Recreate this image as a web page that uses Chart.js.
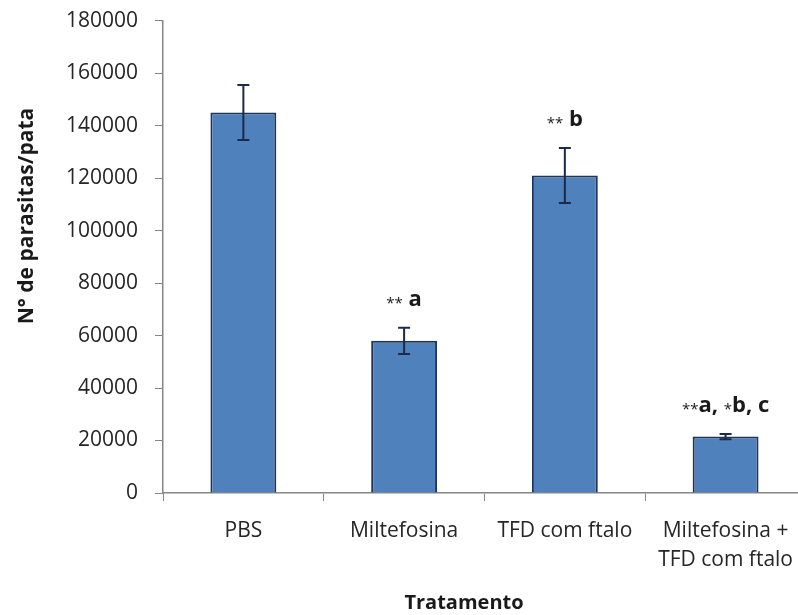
<!DOCTYPE html>
<html>
<head>
<meta charset="utf-8">
<script src="https://cdn.jsdelivr.net/npm/chart.js@4"></script>
<style>
    html, body { margin: 0; padding: 0; background: #fff; overflow: hidden; }
    #wrap { width: 808px; height: 624px; position: relative; top: -9px; }
</style>
</head>
<body>
<div id="wrap"><canvas id="parasiteChart"></canvas></div>
<script>
const categories = ["PBS", "Miltefosina", "TFD com ftalo", ["Miltefosina +", "TFD com ftalo"]];
const meanValues = [145000, 58000, 121000, 21500];
const errorValues = [10500, 5000, 10500, 1000];
const significance = ["", "** a", "** b", "**a, *b, c"];
const yTicks = [0, 20000, 40000, 60000, 80000, 100000, 120000, 140000, 160000, 180000];

const axisGray = "#868686";
const textColor = "#262626";

// error bars drawn on top of the bars
const errorBarPlugin = {
    id: "errorBars",
    afterDatasetsDraw(chart) {
        const ctx = chart.ctx;
        const yScale = chart.scales.y;
        const meta = chart.getDatasetMeta(0);
        ctx.save();
        ctx.strokeStyle = "#1c2a48";
        ctx.lineWidth = 2;
        meta.data.forEach((bar, i) => {
            const top = yScale.getPixelForValue(meanValues[i] + errorValues[i]);
            const bottom = yScale.getPixelForValue(meanValues[i] - errorValues[i]);
            ctx.beginPath();
            ctx.moveTo(bar.x, top);
            ctx.lineTo(bar.x, bottom);
            ctx.moveTo(bar.x - 6, top);
            ctx.lineTo(bar.x + 6, top);
            ctx.moveTo(bar.x - 6, bottom);
            ctx.lineTo(bar.x + 6, bottom);
            ctx.stroke();
        });
        ctx.restore();
    }
};

// significance letters: small asterisks + bold letters
const significancePlugin = {
    id: "significance",
    afterDatasetsDraw(chart) {
        const ctx = chart.ctx;
        const yScale = chart.scales.y;
        const meta = chart.getDatasetMeta(0);
        const starFont = "15px 'Open Sans'";
        const letterFont = "bold 22px 'Open Sans'";
        ctx.save();
        ctx.fillStyle = "#1a1a1a";
        ctx.textBaseline = "alphabetic";
        ctx.textAlign = "left";
        meta.data.forEach((bar, i) => {
            const text = significance[i];
            if (!text) return;
            const runs = text.match(/\*+|[^*]+/g);
            let total = 0;
            const widths = runs.map((r) => {
                ctx.font = r[0] === "*" ? starFont : letterFont;
                const w = ctx.measureText(r).width;
                total += w;
                return w;
            });
            let x = bar.x - total / 2;
            const y = yScale.getPixelForValue(meanValues[i] + errorValues[i]) - 22;
            runs.forEach((r, k) => {
                ctx.font = r[0] === "*" ? starFont : letterFont;
                ctx.fillText(r, x, r[0] === "*" ? y + 2 : y);
                x += widths[k];
            });
        });
        ctx.restore();
    }
};

// axis titles placed like the original (canvas is shifted up by 9px)
const axisTitlePlugin = {
    id: "axisTitles",
    afterDraw(chart) {
        const ctx = chart.ctx;
        ctx.save();
        ctx.fillStyle = "#1a1a1a";
        ctx.textAlign = "center";
        ctx.textBaseline = "middle";
        ctx.font = "bold 20px 'Open Sans'";
        ctx.fillText("Tratamento", 464, 612);
        ctx.font = "bold 21px 'Open Sans'";
        ctx.translate(27, 225);
        ctx.rotate(-Math.PI / 2);
        ctx.fillText("N° de parasitas/pata", 0, 0);
        ctx.restore();
    }
};

const ctx = document.getElementById("parasiteChart").getContext("2d");
new Chart(ctx, {
    type: "bar",
    data: {
        labels: categories,
        datasets: [{
            data: meanValues,
            backgroundColor: "#4f81bd",
            borderColor: "#1f3558",
            borderWidth: 2,
            barPercentage: 0.41,
            categoryPercentage: 1
        }]
    },
    options: {
        responsive: true,
        maintainAspectRatio: false,
        animation: false,
        layout: { padding: { top: 8, right: 0, bottom: 0, left: 0 } },
        plugins: {
            legend: { display: false },
            tooltip: { enabled: false }
        },
        scales: {
            x: {
                grid: { drawOnChartArea: false, tickLength: 8, color: axisGray, offset: true },
                border: { color: axisGray, width: 1.5 },
                ticks: {
                    color: textColor,
                    font: { family: "'Open Sans'", size: 21, lineHeight: 1.4 },
                    padding: 15,
                    maxRotation: 0
                },
                afterFit(scale) { scale.height = 122; }
            },
            y: {
                min: 0,
                max: 180000,
                afterBuildTicks(scale) { scale.ticks = yTicks.map((v) => ({ value: v })); },
                grid: { drawOnChartArea: false, tickLength: 8, color: axisGray },
                border: { color: axisGray, width: 1.5 },
                ticks: {
                    color: textColor,
                    font: { family: "'Open Sans'", size: 21 },
                    padding: 17,
                    callback: (v) => String(v)
                },
                afterFit(scale) { scale.width = 163; }
            }
        }
    },
    plugins: [errorBarPlugin, significancePlugin, axisTitlePlugin]
});
</script>
</body>
</html>
